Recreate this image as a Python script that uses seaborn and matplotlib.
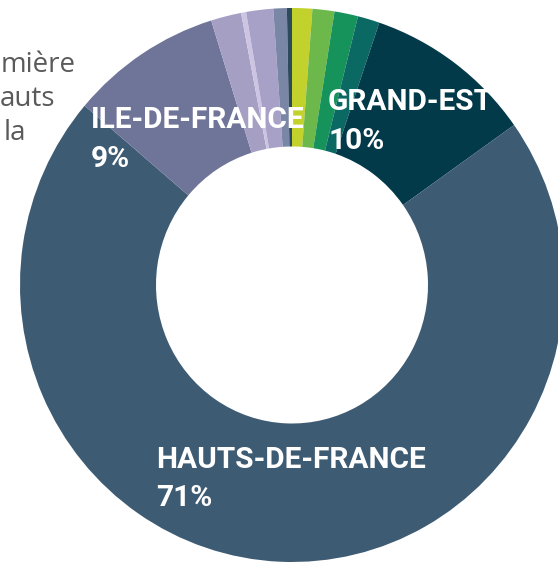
import matplotlib.pyplot as plt
import seaborn as sns

# Region shares (%), clockwise from 12 o'clock
regions = ["autre_1", "autre_2", "autre_3", "autre_4", "GRAND-EST",
           "HAUTS-DE-FRANCE", "ILE-DE-FRANCE", "autre_5", "autre_6",
           "autre_7", "autre_8", "autre_9"]
shares = [1.2, 1.3, 1.4, 1.3, 10, 71, 9, 1.8, 0.3, 1.6, 0.8, 0.3]
colors = ["#c3d12c", "#6db84b", "#16935a", "#0b6964", "#023a4a",
          "#3d5b73", "#6f7499", "#a59fc4", "#cdc4e4", "#a8a1c7",
          "#7a86a5", "#2d4a5c"]
labelled = ["GRAND-EST", "HAUTS-DE-FRANCE", "ILE-DE-FRANCE"]

# paragraph cut off on the left of the original page
side_text = ["mière", "auts", "la"]

sns.set_theme(style="white")
plt.rcParams["font.family"] = ["Roboto", "DejaVu Sans"]

W, H = 558, 565
CX, CY = 292, 285      # pie centre in pixels
RX, RY = 272, 277      # pixels per data unit (picture is slightly squashed)

fig = plt.figure(figsize=(W / 100, H / 100), dpi=100)
ax = fig.add_axes([0, 0, 1, 1])
ax.pie(shares, colors=colors, startangle=90, counterclock=False,
       radius=1, wedgeprops=dict(width=0.5, linewidth=0))
ax.set_aspect("auto")
ax.set_xlim(-CX / RX, (W - CX) / RX)
ax.set_ylim(-(H - CY) / RY, CY / RY)
ax.axis("off")


def px(x, y):
    return (x - CX) / RX, (CY - y) / RY


# label anchors (pixel coords of baseline start): name line, percent line
pos = {
    "ILE-DE-FRANCE": ((91, 128), (91, 167)),
    "GRAND-EST": ((328, 110), (328, 149)),
    "HAUTS-DE-FRANCE": ((156, 468), (156, 506)),
}
for name in labelled:
    v = shares[regions.index(name)]
    (x1, y1), (x2, y2) = pos[name]
    ax.text(*px(x1, y1), name, color="white", fontsize=21.5,
            fontweight="bold", ha="left", va="baseline")
    ax.text(*px(x2, y2), f"{v:.0f}%", color="white", fontsize=21.5,
            fontweight="bold", ha="left", va="baseline")

for i, t in enumerate(side_text):
    x0 = [1, 0, 4][i]
    ax.text(*px(x0, 72 + i * 34), t, color="#5a5a5a", fontsize=20,
            family=["Open Sans", "DejaVu Sans"], ha="left", va="baseline")

fig.savefig("out.png", dpi=100)
plt.close()
